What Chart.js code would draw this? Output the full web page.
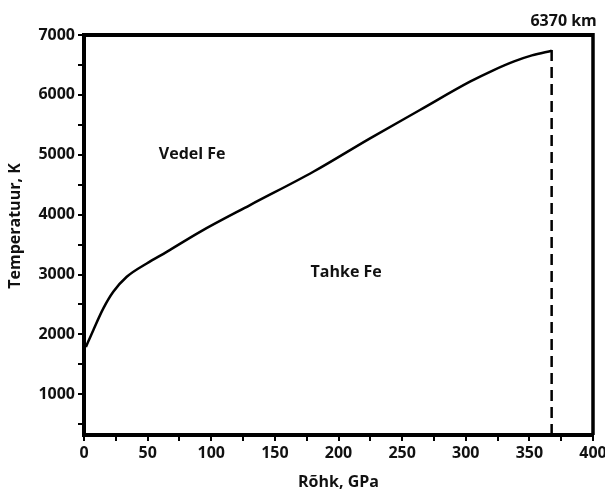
<!DOCTYPE html>
<html>
<head>
<meta charset="utf-8">
<script src="https://cdn.jsdelivr.net/npm/chart.js@4"></script>
<style>
  body { margin: 0; background: #fff; }
  #wrap { width: 605px; height: 490px; position: relative; }
</style>
</head>
<body>
<div id="wrap"><canvas id="chartFe"></canvas></div>
<script>
// Sulamiskõver (rõhk GPa, temperatuur K)
const pressure = [1.5, 7.3, 15.2, 23, 33.6, 49.3, 65, 91.2, 130.5, 180.2, 224.8, 264, 303.3, 322, 338, 352, 367.5];
const temperature = [1790, 2071, 2434, 2711, 2962, 3185, 3379, 3713, 4160, 4716, 5274, 5747, 6220, 6415, 6560, 6660, 6738];

// Maa keskpunkt (katkendjoon)
const centerPressure = [367.5, 367.5];
const centerTemp = [320, 6830];

const xTickValues = [0, 25, 50, 75, 100, 125, 150, 175, 200, 225, 250, 275, 300, 325, 350, 375, 400];
const yTickValues = [500, 1000, 1500, 2000, 2500, 3000, 3500, 4000, 4500, 5000, 5500, 6000, 6500, 7000];

const regionLabels = ['Vedel Fe', 'Tahke Fe'];
const regionPressure = [85, 206];
const regionTemp = [5010, 3030];
const depthLabel = '6370 km';

const fontFam = "'Open Sans', 'DejaVu Sans', sans-serif";

function toPoints(xs, ys) {
	return xs.map((x, i) => ({ x: x, y: ys[i] }));
}

const annotationsPlugin = {
	id: 'annotations',
	afterDraw(chart) {
		const c = chart.ctx;
		const a = chart.chartArea;
		const sx = chart.scales.x;
		const sy = chart.scales.y;
		c.save();
		// raam üleval ja paremal
		c.strokeStyle = '#000';
		c.lineWidth = 4;
		c.beginPath();
		c.moveTo(a.left, a.top);
		c.lineTo(a.right, a.top);
		c.stroke();
		c.lineWidth = 3.5;
		c.beginPath();
		c.moveTo(a.right, a.top - 2);
		c.lineTo(a.right, a.bottom);
		c.stroke();

		c.fillStyle = '#111';
		c.textAlign = 'center';
		c.textBaseline = 'middle';
		c.font = 'bold 16px ' + fontFam;
		regionLabels.forEach((t, i) => {
			c.fillText(t, sx.getPixelForValue(regionPressure[i]), sy.getPixelForValue(regionTemp[i]));
		});
		c.fillText(depthLabel, sx.getPixelForValue(centerPressure[0]) + 12, a.top - 14);

		// telgede pealkirjad
		c.fillText('Rõhk, GPa', (a.left + a.right) / 2, 482);
		c.translate(15, 226);
		c.rotate(-Math.PI / 2);
		c.fillText('Temperatuur, K', 0, 0);
		c.restore();
	}
};

const ctx = document.getElementById('chartFe');
new Chart(ctx, {
	type: 'line',
	data: {
		datasets: [{
			data: toPoints(pressure, temperature),
			borderColor: '#000',
			borderWidth: 2.5,
			pointRadius: 0,
			cubicInterpolationMode: 'monotone',
			fill: false
		}, {
			data: toPoints(centerPressure, centerTemp),
			borderColor: '#000',
			borderWidth: 2.5,
			borderDash: [11, 6],
			pointRadius: 0,
			fill: false
		}]
	},
	options: {
		responsive: true,
		maintainAspectRatio: false,
		animation: false,
		layout: { padding: { left: 0, right: 12, top: 35, bottom: 0 } },
		plugins: { legend: { display: false }, tooltip: { enabled: false } },
		scales: {
			x: {
				type: 'linear',
				min: 0,
				max: 400,
				afterBuildTicks: s => { s.ticks = xTickValues.map(v => ({ value: v })); },
				afterFit: s => { s.height = 55; s.paddingRight = 0; },
				ticks: {
					autoSkip: false,
					maxRotation: 0,
					color: '#111',
					padding: 3,
					font: { size: 16, weight: 'bold', family: fontFam },
					callback: v => (v % 50 === 0 ? String(v) : '')
				},
				grid: { drawOnChartArea: false, color: '#000', lineWidth: 2, tickLength: 6 },
				border: { display: true, color: '#000', width: 4 }
			},
			y: {
				type: 'linear',
				min: 320,
				max: 7000,
				afterBuildTicks: s => { s.ticks = yTickValues.map(v => ({ value: v })); },
				afterFit: s => { s.width = 84; },
				ticks: {
					autoSkip: false,
					color: '#111',
					padding: 3,
					font: { size: 16, weight: 'bold', family: fontFam },
					callback: v => (v % 1000 === 0 ? String(v) : '')
				},
				grid: { drawOnChartArea: false, color: '#000', lineWidth: 2, tickLength: 6 },
				border: { display: true, color: '#000', width: 4 }
			}
		}
	},
	plugins: [annotationsPlugin]
});
</script>
</body>
</html>
